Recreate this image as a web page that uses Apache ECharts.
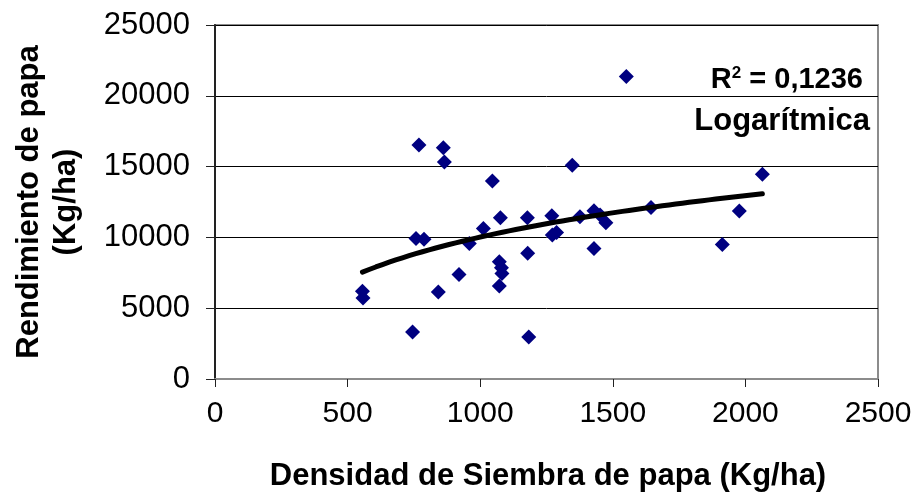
<!DOCTYPE html>
<html>
<head>
<meta charset="utf-8">
<script src="https://cdn.jsdelivr.net/npm/echarts@6/dist/echarts.min.js"></script>
<style>
  html, body { margin: 0; padding: 0; background: #fff; }
  #chart { width: 916px; height: 497px; }
</style>
</head>
<body>
<div id="chart"></div>
<script>
// Seeding density (Kg/ha) and potato yield (Kg/ha) per plot
const densidad = [
  769, 861, 865, 1046, 1076, 1178, 1012, 758, 788, 959,
  1179, 1072, 1080, 1082, 920, 1072, 842, 556, 558, 745,
  1183, 1551, 1347, 2064, 1270, 1272, 1288, 1376, 1429, 1452,
  1474, 1429, 1644, 1913, 1977
];
const rendimiento = [
  16525, 16335, 15323, 13980, 11385, 11385, 10634, 9928, 9878, 9574,
  8888, 8273, 7849, 7453, 7382, 6576, 6152, 6201, 5728, 3323,
  2970, 21355, 15089, 14453, 11526, 10161, 10352, 11455, 11880, 11575,
  11031, 9220, 12120, 9503, 11858
];
const xTicks = [0, 500, 1000, 1500, 2000, 2500];
const yTicks = [0, 5000, 10000, 15000, 20000, 25000];
const r2Label = '0,1236';
const trendName = 'Logarítmica';

// Least-squares fit of y = a*ln(x) + b
function logFit(xs, ys) {
  const n = xs.length;
  let sx = 0, sy = 0, sxx = 0, sxy = 0;
  for (let i = 0; i < n; i++) {
    const lx = Math.log(xs[i]);
    sx += lx; sy += ys[i]; sxx += lx * lx; sxy += lx * ys[i];
  }
  const a = (n * sxy - sx * sy) / (n * sxx - sx * sx);
  const b = (sy - a * sx) / n;
  return { a, b };
}
const fit = logFit(densidad, rendimiento);
const xMin = Math.min(...densidad), xMax = Math.max(...densidad);
const trend = [];
for (let i = 0; i <= 60; i++) {
  const x = xMin + (xMax - xMin) * i / 60;
  trend.push([x, fit.a * Math.log(x) + fit.b]);
}

const points = densidad.map((x, i) => [x, rendimiento[i]]);
const FONT = 'Liberation Sans, Arial, sans-serif';

const chart = echarts.init(document.getElementById('chart'), null, { renderer: 'canvas' });
chart.setOption({
  animation: false,
  backgroundColor: '#fff',
  grid: {
    left: 215, top: 25, right: 38, bottom: 118,
    show: true, borderColor: '#8c8c8c', borderWidth: 2, backgroundColor: 'transparent'
  },
  xAxis: {
    type: 'value',
    min: xTicks[0], max: xTicks[xTicks.length - 1], interval: 500,
    axisLine: { show: true, onZero: false, lineStyle: { color: '#8c8c8c', width: 2 } },
    axisTick: { show: true, length: 8, lineStyle: { color: '#222', width: 1 } },
    axisLabel: { color: '#000', fontFamily: FONT, fontSize: 30, margin: 20, formatter: v => String(v) },
    splitLine: { show: false }
  },
  yAxis: {
    type: 'value',
    min: yTicks[0], max: yTicks[yTicks.length - 1], interval: 5000,
    axisLine: { show: true, onZero: false, lineStyle: { color: '#222', width: 2 } },
    axisTick: { show: true, length: 9, lineStyle: { color: '#222', width: 1 } },
    axisLabel: { color: '#000', fontFamily: FONT, fontSize: 31, margin: 25, formatter: v => String(v) },
    splitLine: { show: true, lineStyle: { color: '#000', width: 1 } }
  },
  series: [
    {
      type: 'scatter',
      data: points,
      symbol: 'diamond',
      symbolSize: 15,
      itemStyle: { color: '#000080', opacity: 1 },
      z: 3
    },
    {
      type: 'line',
      data: trend,
      showSymbol: false,
      smooth: false,
      lineStyle: { color: '#000', width: 5, cap: 'round' },
      z: 4
    }
  ],
  graphic: [
    {
      type: 'text',
      x: 863, y: 80,
      style: {
        text: '{b|R}{s|2}{b| = ' + r2Label + '}',
        align: 'right', verticalAlign: 'middle',
        rich: {
          b: { fontFamily: FONT, fontWeight: 'bold', fontSize: 29, fill: '#000' },
          s: { fontFamily: FONT, fontWeight: 'bold', fontSize: 17, fill: '#000', verticalAlign: 'top', padding: [0, 0, 14, 0] }
        }
      }
    },
    {
      type: 'text',
      x: 870, y: 121,
      style: {
        text: trendName,
        align: 'right', verticalAlign: 'middle',
        fontFamily: FONT, fontWeight: 'bold', fontSize: 31, fill: '#000'
      }
    },
    {
      type: 'text',
      x: 548, y: 476,
      style: {
        text: 'Densidad de Siembra de papa (Kg/ha)',
        align: 'center', verticalAlign: 'middle',
        fontFamily: FONT, fontWeight: 'bold', fontSize: 31, fill: '#000'
      }
    },
    {
      type: 'text',
      x: 48, y: 202,
      rotation: Math.PI / 2,
      style: {
        text: 'Rendimiento de papa\n(Kg/ha)',
        align: 'center', verticalAlign: 'middle',
        lineHeight: 37,
        fontFamily: FONT, fontWeight: 'bold', fontSize: 31, fill: '#000'
      }
    }
  ]
});
</script>
</body>
</html>
